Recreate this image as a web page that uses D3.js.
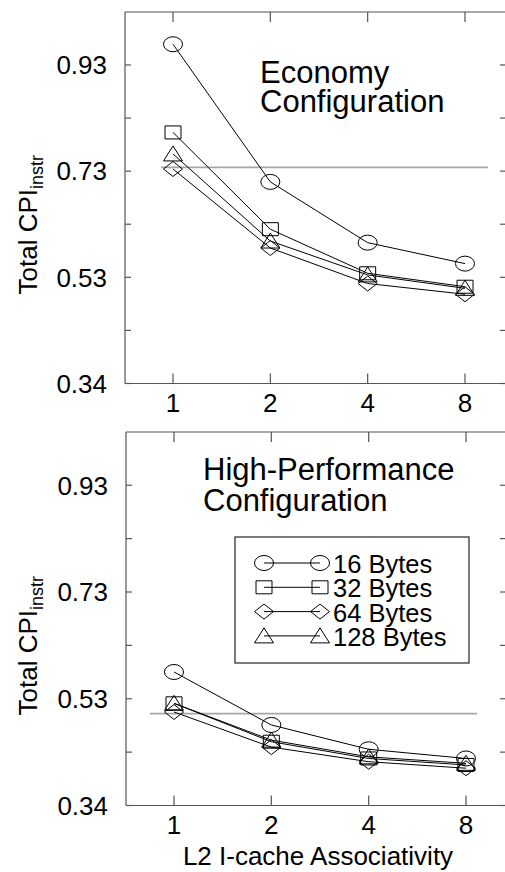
<!DOCTYPE html>
<html>
<head>
<meta charset="utf-8">
<script src="https://cdn.jsdelivr.net/npm/d3@7"></script>
<style>
  body { margin: 0; background: #fff; }
  svg { display: block; font-family: Arial, "Liberation Sans", sans-serif; }
</style>
</head>
<body>
<div id="wrapper"></div>
<script>
// data
const associativity = ['1', '2', '4', '8']
const seriesNames = ['16 Bytes', '32 Bytes', '64 Bytes', '128 Bytes']
const seriesShapes = ['circle', 'square', 'diamond', 'triangle']

const economy16 = [0.966, 0.710, 0.597, 0.558]
const economy32 = [0.802, 0.622, 0.540, 0.515]
const economy64 = [0.734, 0.587, 0.521, 0.501]
const economy128 = [0.762, 0.600, 0.537, 0.512]
const economyRef = 0.737

const highPerf16 = [0.582, 0.484, 0.439, 0.422]
const highPerf32 = [0.524, 0.453, 0.422, 0.410]
const highPerf64 = [0.508, 0.443, 0.416, 0.404]
const highPerf128 = [0.524, 0.456, 0.425, 0.413]
const highPerfRef = 0.505

const yTickValues = [0.335, 0.5325, 0.73, 0.9275]
const yTickLabels = ['0.34', '0.53', '0.73', '0.93']
const yMinorValues = [0.43375, 0.63125, 0.82875]
const yDomain = [0.335, 1.026]

const panels = [
  { title: ['Economy', 'Configuration'], series: [economy16, economy32, economy64, economy128], ref: economyRef },
  { title: ['High-Performance', 'Configuration'], series: [highPerf16, highPerf32, highPerf64, highPerf128], ref: highPerfRef }
]

const width = 505
const height = 872

const svg = d3.select('#wrapper')
  .append('svg')
  .attr('width', width)
  .attr('height', height)

// hollow, slightly wide markers
const markerPath = (shape, cx, cy) => {
  const p = d3.path()
  if (shape === 'square') {
    p.rect(cx - 8, cy - 6.5, 16, 13)
  } else if (shape === 'diamond') {
    p.moveTo(cx, cy - 7.5); p.lineTo(cx + 9.5, cy); p.lineTo(cx, cy + 7.5); p.lineTo(cx - 9.5, cy); p.closePath()
  } else {
    p.moveTo(cx, cy - 8); p.lineTo(cx + 9.5, cy + 7); p.lineTo(cx - 9.5, cy + 7); p.closePath()
  }
  return p.toString()
}

const drawMarker = (g, shape, cx, cy) => {
  if (shape === 'circle') {
    g.append('ellipse')
      .attr('cx', cx).attr('cy', cy)
      .attr('rx', 9.5).attr('ry', 7.5)
      .attr('fill', 'none').attr('stroke', '#000').attr('stroke-width', 1)
  } else {
    g.append('path')
      .attr('d', markerPath(shape, cx, cy))
      .attr('fill', 'none').attr('stroke', '#000').attr('stroke-width', 1)
  }
}

const drawPanel = (panel, i) => {
  const top = i === 0 ? 12 : 432
  const bottom = i === 0 ? 383.5 : 805.5
  const left = i === 0 ? 125 : 126
  const right = 506
  const axisColor = '#555'

  const xScale = d3.scaleLinear().domain([0, 3]).range([left + 48, left + 340])
  const yScale = d3.scaleLinear().domain(yDomain).range([bottom, top])

  const g = svg.append('g')

  // frame lines (left, bottom, top)
  g.append('line').attr('x1', left).attr('x2', left).attr('y1', top).attr('y2', bottom)
    .attr('stroke', axisColor).attr('stroke-width', 1.2)
  g.append('line').attr('x1', left).attr('x2', right).attr('y1', bottom).attr('y2', bottom)
    .attr('stroke', axisColor).attr('stroke-width', 1.2)
  g.append('line').attr('x1', left).attr('x2', right).attr('y1', top).attr('y2', top)
    .attr('stroke', axisColor).attr('stroke-width', 1.2)

  // x ticks, inward on top and bottom
  associativity.forEach((a, j) => {
    const x = xScale(j)
    g.append('line').attr('x1', x).attr('x2', x).attr('y1', bottom).attr('y2', bottom - 10)
      .attr('stroke', axisColor).attr('stroke-width', 1.2)
    g.append('line').attr('x1', x).attr('x2', x).attr('y1', top).attr('y2', top + 10)
      .attr('stroke', axisColor).attr('stroke-width', 1.2)
    g.append('text')
      .attr('x', x).attr('y', bottom + 28)
      .attr('text-anchor', 'middle')
      .attr('font-size', 26)
      .text(a)
  })

  // y ticks, inward on left and right
  yTickValues.concat(yMinorValues).forEach(v => {
    const y = yScale(v)
    g.append('line').attr('x1', left).attr('x2', left + 6).attr('y1', y).attr('y2', y)
      .attr('stroke', axisColor).attr('stroke-width', 1.2)
    g.append('line').attr('x1', right - 6).attr('x2', right).attr('y1', y).attr('y2', y)
      .attr('stroke', axisColor).attr('stroke-width', 1.2)
  })
  yTickValues.forEach((v, j) => {
    g.append('text')
      .attr('x', left - 18).attr('y', yScale(v))
      .attr('dy', '0.36em')
      .attr('text-anchor', 'end')
      .attr('font-size', 26)
      .text(yTickLabels[j])
  })

  // y label
  const yLabel = g.append('text')
    .attr('transform', `translate(37, ${(top + bottom) / 2 + 27}) rotate(-90)`)
    .attr('text-anchor', 'middle')
    .attr('font-size', 26)
  yLabel.append('tspan').text('Total CPI')
  yLabel.append('tspan').attr('font-size', 18).attr('dy', 6).text('instr')

  // reference line
  g.append('line')
    .attr('x1', i === 0 ? 161 : 150).attr('x2', i === 0 ? 488 : 477)
    .attr('y1', yScale(panel.ref)).attr('y2', yScale(panel.ref))
    .attr('stroke', '#a6a6a6').attr('stroke-width', 1.6)

  // series
  const line = d3.line().x((d, j) => xScale(j)).y(d => yScale(d))
  panel.series.forEach((values, s) => {
    g.append('path')
      .attr('d', line(values))
      .attr('fill', 'none')
      .attr('stroke', '#000')
      .attr('stroke-width', 1)
    values.forEach((v, j) => drawMarker(g, seriesShapes[s], xScale(j), yScale(v)))
  })

  // title
  const titleX = i === 0 ? 260 : 203
  const titleY = i === 0 ? 83 : 480
  const titleGap = i === 0 ? 29 : 31
  panel.title.forEach((t, k) => {
    g.append('text')
      .attr('x', titleX).attr('y', titleY + k * titleGap)
      .attr('font-size', 31)
      .text(t)
  })

  if (i === 1) {
    // legend
    const legend = g.append('g')
    legend.append('rect')
      .attr('x', 235).attr('y', 537).attr('width', 234).attr('height', 126)
      .attr('fill', '#fff').attr('stroke', '#222').attr('stroke-width', 1.2)
    seriesNames.forEach((name, s) => {
      const y = 563 + s * 24.3
      legend.append('line').attr('x1', 264).attr('x2', 320).attr('y1', y).attr('y2', y)
        .attr('stroke', '#000').attr('stroke-width', 1)
      drawMarker(legend, seriesShapes[s], 264, y)
      drawMarker(legend, seriesShapes[s], 320, y)
      legend.append('text')
        .attr('x', 333).attr('y', y + 5)
        .attr('dy', '0.2em')
        .attr('font-size', 25.5)
        .text(name)
    })

    // x label
    g.append('text')
      .attr('x', 318).attr('y', 865)
      .attr('text-anchor', 'middle')
      .attr('font-size', 26)
      .text('L2 I-cache Associativity')
  }
}

panels.forEach(drawPanel)
</script>
</body>
</html>
